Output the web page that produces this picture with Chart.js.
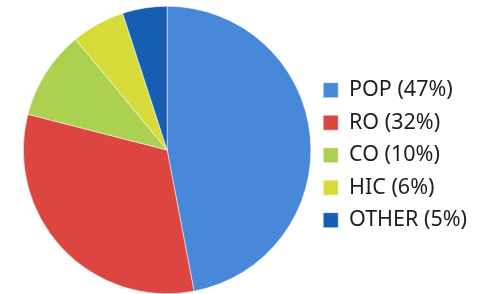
<!DOCTYPE html>
<html>
<head>
<meta charset="utf-8">
<script src="https://cdn.jsdelivr.net/npm/chart.js@4"></script>
<style>
  html, body { margin: 0; padding: 0; background: #fff; }
  #wrap { width: 491px; height: 294px; }
</style>
</head>
<body>
<div id="wrap"><canvas id="chartPie"></canvas></div>
<script>
// Dados do gráfico
const categories = ['POP', 'RO', 'CO', 'HIC', 'OTHER'];
const shares = [47, 32, 10, 6, 5];
const sliceColors = ['#4788d8', '#dc4540', '#acd150', '#d8dc3b', '#175db3'];

const labels = categories.map((c, i) => c + ' (' + shares[i] + '%)');

new Chart(document.getElementById('chartPie'), {
    type: 'pie',
    data: {
        labels: labels,
        datasets: [{
            data: shares,
            backgroundColor: sliceColors,
            borderColor: '#FFFFFF',
            borderWidth: 0.5
        }]
    },
    options: {
        responsive: true,
        maintainAspectRatio: false,
        animation: false,
        layout: {
            padding: { left: 22, top: 6, bottom: 0, right: 14 }
        },
        plugins: {
            legend: {
                position: 'right',
                // titulo vazio so para empurrar a legenda um pouco para baixo
                title: {
                    display: true,
                    text: ' ',
                    padding: 4,
                    font: { size: 2 }
                },
                labels: {
                    boxWidth: 15,
                    boxHeight: 15,
                    padding: 11,
                    color: '#1e1e1e',
                    font: { family: 'Noto Sans', size: 21.5 }
                }
            },
            tooltip: { enabled: false }
        }
    }
});
</script>
</body>
</html>
